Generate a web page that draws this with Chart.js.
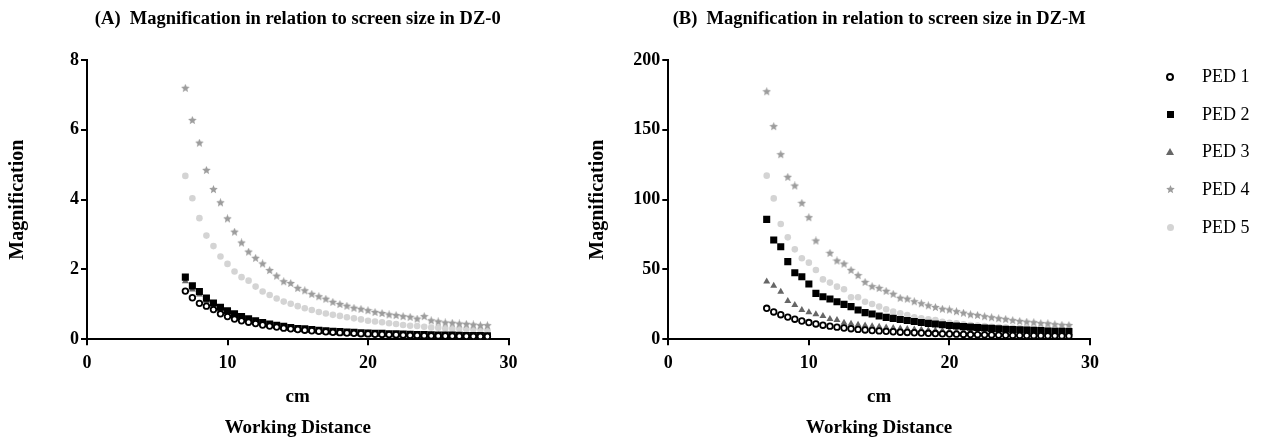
<!DOCTYPE html>
<html lang="en">
<head>
<meta charset="UTF-8" />
<title>Magnification in relation to screen size</title>
<script src="https://cdn.jsdelivr.net/npm/chart.js"></script>
<style>
  body { margin:0; background:#fff; width:1261px; height:441px; overflow:hidden; position:relative; font-family:"Liberation Serif", serif; }
  .panel { position:absolute; top:0; height:441px; }
  #boxA { left:0; width:540px; }
  #boxB { left:580px; width:681px; }
  #legend { position:absolute; left:1150px; top:58px; }
  .row { display:flex; align-items:center; height:37.6px; font-size:18px; color:#000; }
  .mk { width:40px; display:flex; justify-content:center; align-items:center; margin-right:12px; }
</style>
</head>
<body>
<div class="panel" id="boxA"><canvas id="chartA"></canvas></div>
<div class="panel" id="boxB"><canvas id="chartB"></canvas></div>
<div id="legend"></div>

<script>
// working distance (cm)
const distance = [7,7.5,8,8.5,9,9.5,10,10.5,11,11.5,12,12.5,13,13.5,14,14.5,15,15.5,16,16.5,17,17.5,18,18.5,19,19.5,20,20.5,21,21.5,22,22.5,23,23.5,24,24.5,25,25.5,26,26.5,27,27.5,28,28.5];
const seriesNames = ['PED 1','PED 2','PED 3','PED 4','PED 5'];

// (A) DZ-0
const dz0Ped1 = [1.38,1.19,1.03,0.95,0.85,0.73,0.65,0.58,0.53,0.49,0.45,0.41,0.38,0.35,0.32,0.30,0.28,0.26,0.245,0.23,0.215,0.20,0.19,0.18,0.17,0.16,0.155,0.145,0.14,0.135,0.13,0.12,0.115,0.11,0.105,0.10,0.098,0.095,0.092,0.09,0.087,0.085,0.082,0.08];
const dz0Ped2 = [1.78,1.53,1.37,1.18,1.04,0.92,0.82,0.73,0.65,0.59,0.53,0.48,0.44,0.40,0.37,0.34,0.31,0.30,0.28,0.26,0.245,0.23,0.22,0.21,0.20,0.19,0.18,0.175,0.17,0.16,0.155,0.15,0.145,0.14,0.135,0.13,0.125,0.12,0.12,0.115,0.11,0.11,0.105,0.10];
const dz0Ped3 = [1.66,1.43,1.28,1.10,0.97,0.86,0.77,0.68,0.61,0.55,0.50,0.45,0.41,0.375,0.345,0.32,0.29,0.28,0.26,0.245,0.23,0.215,0.205,0.195,0.185,0.175,0.17,0.16,0.155,0.15,0.145,0.14,0.135,0.13,0.125,0.12,0.115,0.11,0.11,0.105,0.10,0.10,0.097,0.093];
const dz0Ped4 = [7.19,6.27,5.62,4.84,4.29,3.91,3.45,3.07,2.76,2.50,2.32,2.16,1.97,1.81,1.65,1.60,1.46,1.39,1.29,1.22,1.15,1.06,1.00,0.95,0.89,0.86,0.82,0.77,0.74,0.70,0.68,0.65,0.63,0.58,0.65,0.53,0.50,0.47,0.46,0.44,0.43,0.41,0.39,0.39];
const dz0Ped5 = [4.68,4.04,3.47,2.97,2.67,2.37,2.16,1.94,1.78,1.68,1.51,1.37,1.27,1.17,1.08,1.02,0.95,0.89,0.84,0.78,0.74,0.70,0.67,0.63,0.60,0.57,0.53,0.51,0.49,0.46,0.44,0.41,0.39,0.38,0.36,0.34,0.33,0.31,0.30,0.30,0.29,0.28,0.27,0.26];

// (B) DZ-M
const dzmPed1 = [22.2,19.6,17.6,15.9,14.4,13.1,12.0,11.0,10.1,9.4,8.7,8.1,7.6,7.1,6.7,6.3,6.0,5.7,5.4,5.1,4.9,4.7,4.5,4.3,4.1,3.9,3.8,3.7,3.5,3.4,3.3,3.2,3.1,3.0,2.9,2.8,2.8,2.7,2.6,2.6,2.5,2.5,2.4,2.4];
const dzmPed2 = [85.9,71.1,66.3,55.6,47.7,44.8,39.6,32.9,30.5,28.9,26.9,25.0,23.4,21.0,19.1,18.1,16.7,15.7,15.0,14.2,13.4,12.7,12.0,11.4,10.9,10.4,9.9,9.5,9.1,8.7,8.4,8.1,7.8,7.5,7.2,7.0,6.8,6.6,6.4,6.2,6.0,5.8,5.7,5.5];
const dzmPed3 = [41.3,38.4,34.1,27.4,24.6,21.0,19.3,17.9,16.7,14.5,13.8,11.9,11.2,10.5,9.9,9.4,8.9,8.5,8.1,7.7,7.4,7.1,6.8,6.5,6.3,6.1,5.9,5.7,5.5,5.3,5.2,5.0,4.9,4.8,4.6,4.5,4.4,4.3,4.2,4.1,4.0,3.9,3.9,3.8];
const dzmPed4 = [177.3,152.3,132.2,116.0,109.8,97.4,87.1,70.4,null,61.6,56.1,53.9,49.4,45.6,40.8,37.7,36.5,34.4,32.3,29.4,28.8,26.9,25.5,24.0,22.8,21.6,21.0,19.8,18.7,17.6,17.1,16.2,15.5,14.8,14.3,13.4,12.8,12.3,11.9,11.3,11.1,10.5,10.1,9.9];
const dzmPed5 = [117.2,100.9,82.6,73.0,64.4,58.0,54.9,49.6,42.9,40.6,37.7,35.8,30.1,30.1,26.9,25.3,23.4,21.5,19.8,18.6,17.4,15.7,15.0,14.3,13.8,12.6,11.9,11.4,10.7,10.2,9.8,9.4,9.0,8.7,8.4,8.2,8.0,7.8,7.6,7.4,7.2,7.1,7.0,6.9];

const xTicks = [0,10,20,30];
const yTicksA = [0,2,4,6,8];
const yTicksB = [0,50,100,150,200];

const FONT = '"Liberation Serif", "Times New Roman", serif';

function starMarker(size, color){
  const c = document.createElement('canvas');
  c.width = c.height = size;
  const g = c.getContext('2d');
  const r = size/2, ri = r*0.45;
  g.beginPath();
  for(let k=0;k<10;k++){
    const a = -Math.PI/2 + k*Math.PI/5;
    const rr = k%2 ? ri : r;
    g.lineTo(r + rr*Math.cos(a), r + rr*Math.sin(a));
  }
  g.closePath();
  g.fillStyle = color;
  g.fill();
  return c;
}
const star = starMarker(9, '#9c9c9c');

const looks = [
  {pointStyle:'circle', pointRadius:2.8, backgroundColor:'#fff', borderColor:'#000', borderWidth:1.8},
  {pointStyle:'rect', pointRadius:5, backgroundColor:'#000', borderColor:'#000', borderWidth:0},
  {pointStyle:'triangle', pointRadius:4, backgroundColor:'#666', borderColor:'#666', borderWidth:0},
  {pointStyle:star, pointRadius:4, backgroundColor:'#9c9c9c', borderColor:'#9c9c9c', borderWidth:0},
  {pointStyle:'circle', pointRadius:3.3, backgroundColor:'#d4d4d4', borderColor:'#d4d4d4', borderWidth:0}
];

function makeChart(id, title, series, yTicks, axisWidth, padRight){
  const datasets = series.map((arr,i)=>({
    label: seriesNames[i],
    data: distance.map((x,j)=>({x:x, y:arr[j]})),
    ...looks[i],
    pointHoverRadius: looks[i].pointRadius
  }));
  const tickFont = {family:FONT, size:18, weight:'bold'};
  return new Chart(document.getElementById(id), {
    type:'scatter',
    data:{datasets},
    options:{
      responsive:true, maintainAspectRatio:false, animation:false,
      layout:{padding:{left:0, right:padRight, top:0, bottom:0}},
      plugins:{
        legend:{display:false},
        tooltip:{enabled:false},
        title:{display:true, text:title, fullSize:false, color:'#000',
          font:{family:FONT, size:18.5, weight:'bold'}, padding:{top:8, bottom:29.8}}
      },
      scales:{
        x:{
          type:'linear', min:xTicks[0], max:xTicks[xTicks.length-1],
          ticks:{stepSize:xTicks[1]-xTicks[0], color:'#000', font:tickFont, padding:7, maxRotation:0},
          grid:{drawOnChartArea:false, drawTicks:true, tickLength:6, color:'#000', lineWidth:2},
          border:{color:'#000', width:2},
          title:{display:true, text:['cm','Working Distance'], color:'#000',
            font:{family:FONT, size:19, weight:'bold', lineHeight:1.63}, padding:{top:0, bottom:-3}},
          afterFit(s){ s.height = 441 - 339.3; }
        },
        y:{
          type:'linear', min:yTicks[0], max:yTicks[yTicks.length-1],
          ticks:{stepSize:yTicks[1]-yTicks[0], color:'#000', font:tickFont, padding:2},
          grid:{drawOnChartArea:false, drawTicks:true, tickLength:6, color:'#000', lineWidth:2},
          border:{color:'#000', width:2},
          title:{display:true, text:'Magnification', color:'#000',
            font:{family:FONT, size:20, weight:'bold'}, padding:{top:6, bottom:0}},
          afterFit(s){ s.width = axisWidth; }
        }
      }
    }
  });
}

makeChart('chartA', '(A)  Magnification in relation to screen size in DZ-0',
  [dz0Ped1, dz0Ped2, dz0Ped3, dz0Ped4, dz0Ped5], yTicksA, 87, 31.5);
makeChart('chartB', '(B)  Magnification in relation to screen size in DZ-M',
  [dzmPed1, dzmPed2, dzmPed3, dzmPed4, dzmPed5], yTicksB, 88.3, 171);

// legend
const marks = [
  '<span style="display:block;width:4px;height:4px;border:2px solid #000;border-radius:50%"></span>',
  '<span style="display:block;width:7px;height:7px;background:#000"></span>',
  '<span style="display:block;width:0;height:0;border-left:4px solid transparent;border-right:4px solid transparent;border-bottom:7px solid #666"></span>',
  '<img src="'+star.toDataURL()+'" width="9" height="9">',
  '<span style="display:block;width:7px;height:7px;background:#d4d4d4;border-radius:50%"></span>'
];
document.getElementById('legend').innerHTML = seriesNames.map((n,i)=>
  '<div class="row"><div class="mk">'+marks[i]+'</div><span>'+n+'</span></div>').join('');
</script>
</body>
</html>
